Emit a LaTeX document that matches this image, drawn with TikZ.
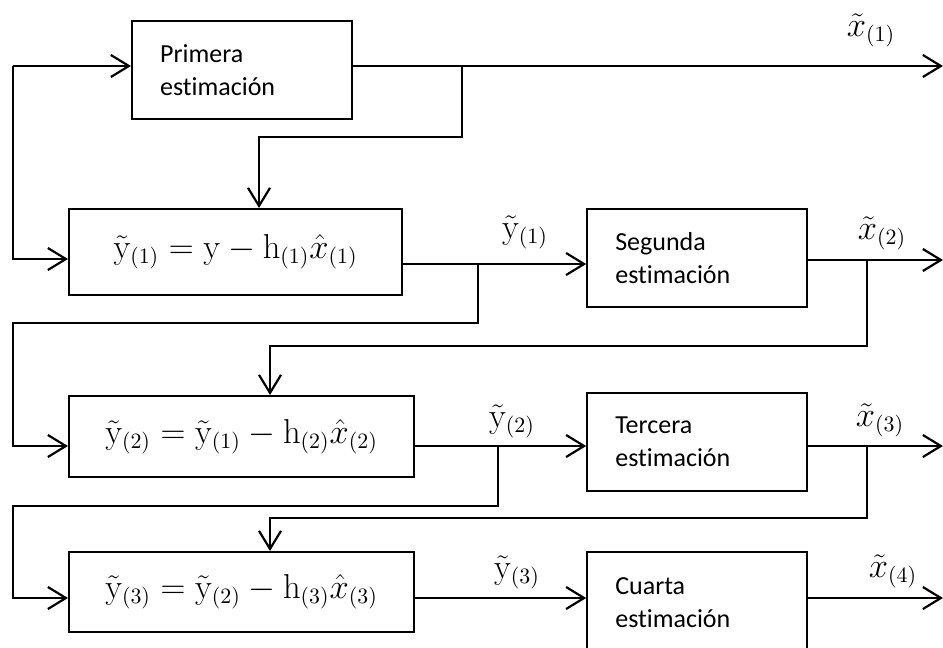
\documentclass[tikz,border=0pt]{standalone}
\usepackage[no-math]{fontspec}
\setmainfont{Carlito}[Ligatures={NoCommon}]
\usetikzlibrary{positioning,arrows.meta}

\begin{document}
\begin{tikzpicture}[x=0.5pt,y=-0.5pt,line width=1.1pt,
                    >={Straight Barb[length=9pt,width=11pt]},
                    estim/.style={draw,align=left,text width=82pt,inner xsep=14pt,
                                  minimum width=110pt,minimum height=49pt,
                                  font=\fontsize{13}{16.5}\selectfont},
                    ecua/.style={draw,minimum width=172.5pt,minimum height=40.5pt,
                                 font=\fontsize{16}{19}\selectfont},
                    val/.style={inner sep=0pt,font=\fontsize{16}{19}\selectfont}]
  \useasboundingbox (0,0) rectangle (943,648);
  % left column: the residual updates
  \node[estim,anchor=north west] (prim) at (131,20) {Primera\\estimación};
  \node[ecua,anchor=north west,minimum width=166.5pt,minimum height=43pt] (eq1) at (68,208)
       {$\tilde{\mathrm{y}}_{(1)}=\mathrm{y}-\mathrm{h}_{(1)}\hat{x}_{(1)}$};
  \node[ecua,anchor=north west] (eq2) at (68,395)
       {$\tilde{\mathrm{y}}_{(2)}=\tilde{\mathrm{y}}_{(1)}-\mathrm{h}_{(2)}\hat{x}_{(2)}$};
  \node[ecua,anchor=north west,minimum height=40pt] (eq3) at (68,551)
       {$\tilde{\mathrm{y}}_{(3)}=\tilde{\mathrm{y}}_{(2)}-\mathrm{h}_{(3)}\hat{x}_{(3)}$};
  % right column hangs off the left one
  \node[estim,right=91.5pt of eq1.north east,anchor=north west] (seg) {Segunda\\estimación};
  \node[estim,right=85.5pt of eq2.north east,anchor=north west,yshift=1.5pt] (ter) {Tercera\\estimación};
  \node[estim,right=85.5pt of eq3.north east,anchor=north west,minimum height=50.5pt] (cua) {Cuarta\\estimación};

  % rows and corners of the wiring
  \coordinate (in0) at (13,66);
  \coordinate (in1) at (13,259);
  \coordinate (b0) at (462,66);
  \coordinate (j0) at (259,137);
  \coordinate (x1) at (943,66);
  \coordinate (y1) at (478,264);
  \coordinate (k1) at (13,323);
  \coordinate (b2) at (867,260);
  \coordinate (x2) at (943,260);
  \coordinate (j2) at (270,346);
  \coordinate (y2) at (498,446);
  \coordinate (k2) at (13,506);
  \coordinate (b3) at (867,446);
  \coordinate (x3) at (943,446);
  \coordinate (j3) at (270,518);
  \coordinate (y3) at (0,598);
  \coordinate (x4) at (943,598);

  \draw[->] (in0) -- (prim.west |- in0);
  \draw[->] (in0) |- (eq1.west |- in1);
  \draw[->] (prim.east |- in0) -- (x1);
  \draw[->] (b0) |- (j0) -- (eq1.north -| j0);

  \draw[->] (eq1.east |- y1) -- (seg.west |- y1);
  \draw[->] (y1) |- (k1) |- (eq2.west |- y2);
  \draw[->] (seg.east |- b2) -- (x2);
  \draw[->] (b2) |- (j2) -- (eq2.north -| j2);

  \draw[->] (eq2.east |- y2) -- (ter.west |- y2);
  \draw[->] (y2) |- (k2) |- (eq3.west |- y3);
  \draw[->] (ter.east |- b3) -- (x3);
  \draw[->] (b3) |- (j3) -- (eq3.north -| j3);

  \draw[->] (eq3.east |- y3) -- (cua.west |- y3);
  \draw[->] (cua.east |- y3) -- (x4);

  \node[val] (lx1) at (871,30) {$\tilde{x}_{(1)}$};
  \node[val] (ly1) at (525,232) {$\tilde{\mathrm{y}}_{(1)}$};
  \node[val] (lx2) at (882,233) {$\tilde{x}_{(2)}$};
  \node[val] (ly2) at (512,421) {$\tilde{\mathrm{y}}_{(2)}$};
  \node[val] (lx3) at (880,420) {$\tilde{x}_{(3)}$};
  \node[val] (ly3) at (517,572) {$\tilde{\mathrm{y}}_{(3)}$};
  \node[val] (lx4) at (893,571) {$\tilde{x}_{(4)}$};
\end{tikzpicture}
\end{document}
